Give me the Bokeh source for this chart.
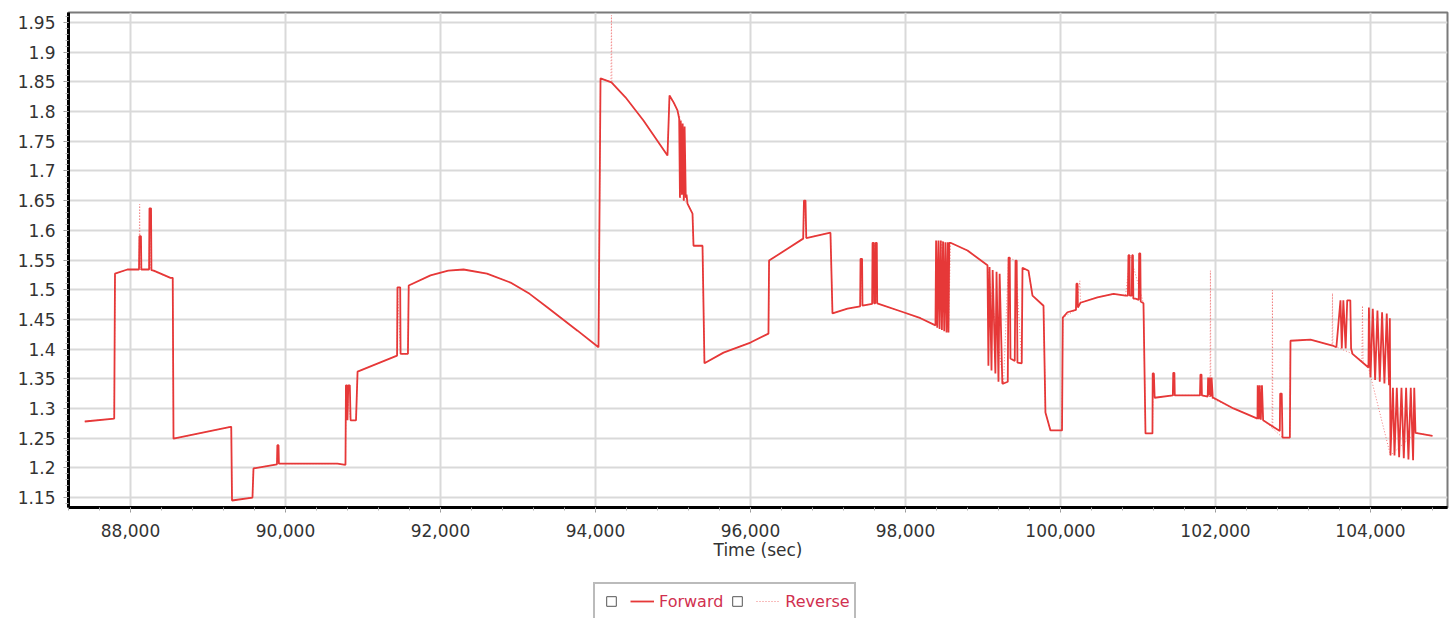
from bokeh.plotting import figure
from bokeh.layouts import column
from bokeh.models import (FixedTicker, NumeralTickFormatter, Legend, LegendItem,
                          ColumnDataSource, Range1d)
from bokeh.embed import file_html
from bokeh.resources import INLINE

# ---------------- data ----------------
forward_time = [
    87410, 87790, 87800, 87960, 88110, 88115, 88135, 88140, 88240, 88245, 88265, 88270, 88300, 88516, 88545,
    88555, 89290, 89300, 89310, 89574, 89587, 89890, 89895, 89910, 89915, 90670, 90774, 90780, 90795, 90800,
    90810, 90830, 90840, 90910, 90930, 91440, 91445, 91480, 91485, 91580, 91590, 91871, 92100, 92297, 92600,
    92903, 93150, 93381, 93768, 94039, 94065, 94206, 94387, 94619, 94929, 94955, 95010, 95058,
    95080, 95090, 95100, 95115, 95125, 95140, 95150, 95165, 95175, 95187, 95252, 95265, 95381, 95406,
    95652, 96000, 96232, 96240, 96477, 96680, 96690, 96710, 96720, 97032, 97058, 97252, 97415, 97420,
    97440, 97445, 97570, 97575, 97590, 97595, 97610, 97615, 97630, 97635, 97974, 98194, 98387,
    98395, 98410, 98425, 98440, 98455, 98470, 98485, 98500, 98515, 98530, 98545, 98555, 98565, 98581,
    98800, 99058, 99070, 99085, 99110, 99125, 99160, 99175, 99200, 99215, 99250, 99265, 99320, 99330,
    99345, 99355, 99410, 99420, 99435, 99445, 99500, 99510, 99587, 99639, 99781, 99806, 99871, 100020,
    100030, 100090, 100200, 100206, 100220, 100225, 100258, 100477, 100684, 100839, 100870, 100877,
    100890, 100895, 100920, 100925, 100935, 100940, 100968, 101010, 101015, 101030, 101035, 101071,
    101097, 101187, 101190, 101205, 101215, 101450, 101455, 101470, 101475, 101800, 101806, 101820,
    101825, 101900, 101905, 101915, 101925, 101940, 101950, 101965, 101974, 102232, 102542, 102545,
    102560, 102570, 102585, 102600, 102615, 102830, 102835, 102855, 102865, 102960, 102968, 103226,
    103510, 103560, 103613, 103630, 103650, 103680, 103700, 103740, 103750, 103768, 103974, 103980,
    104000, 104030, 104060, 104090, 104120, 104150, 104180, 104210, 104240, 104250, 104258, 104290,
    104310, 104340, 104370, 104400, 104430, 104460, 104490, 104520, 104550, 104565, 104581, 104800,
]
forward_value = [
    1.278, 1.283, 1.527, 1.534, 1.534, 1.590, 1.590, 1.534, 1.534, 1.637, 1.637, 1.533, 1.532, 1.520, 1.520,
    1.249, 1.269, 1.269, 1.145, 1.150, 1.199, 1.206, 1.238, 1.238, 1.207, 1.207, 1.205, 1.339, 1.339, 1.280,
    1.339, 1.339, 1.280, 1.280, 1.362, 1.389, 1.504, 1.504, 1.392, 1.392, 1.507, 1.524, 1.532, 1.534, 1.527,
    1.512, 1.493, 1.470, 1.431, 1.403, 1.856, 1.849, 1.824, 1.785, 1.726, 1.827, 1.815, 1.802,
    1.788, 1.655, 1.785, 1.660, 1.780, 1.650, 1.775, 1.655, 1.660, 1.645, 1.628, 1.574, 1.574, 1.376,
    1.394, 1.411, 1.426, 1.549, 1.569, 1.586, 1.650, 1.650, 1.587, 1.596, 1.460, 1.468, 1.472, 1.552,
    1.552, 1.473, 1.476, 1.579, 1.579, 1.477, 1.477, 1.579, 1.579, 1.477, 1.462, 1.452, 1.440,
    1.583, 1.436, 1.583, 1.434, 1.583, 1.432, 1.581, 1.430, 1.580, 1.428, 1.580, 1.428, 1.579, 1.579,
    1.566, 1.541, 1.372, 1.538, 1.364, 1.533, 1.359, 1.530, 1.345, 1.527, 1.342, 1.342, 1.345, 1.554,
    1.554, 1.384, 1.380, 1.549, 1.549, 1.377, 1.376, 1.537, 1.532, 1.490, 1.473, 1.293, 1.263, 1.263,
    1.453, 1.462, 1.466, 1.510, 1.510, 1.470, 1.478, 1.487, 1.493, 1.490, 1.490, 1.558,
    1.558, 1.490, 1.490, 1.558, 1.558, 1.485, 1.485, 1.483, 1.561, 1.561, 1.480, 1.477,
    1.258, 1.258, 1.359, 1.359, 1.318, 1.322, 1.360, 1.360, 1.322, 1.322, 1.357, 1.357,
    1.322, 1.320, 1.352, 1.322, 1.352, 1.320, 1.352, 1.318, 1.318, 1.300, 1.283, 1.339,
    1.282, 1.339, 1.281, 1.339, 1.280, 1.262, 1.325, 1.325, 1.251, 1.251, 1.414, 1.416,
    1.406, 1.403, 1.482, 1.401, 1.482, 1.401, 1.482, 1.482, 1.401, 1.392, 1.369, 1.470,
    1.352, 1.468, 1.348, 1.465, 1.345, 1.462, 1.342, 1.460, 1.339, 1.452, 1.221, 1.335,
    1.221, 1.335, 1.218, 1.335, 1.216, 1.335, 1.214, 1.335, 1.213, 1.335, 1.259, 1.254,
]

reverse_time = [
    87410, 87790, 87800, 87960, 88110, 88118, 88125, 88240, 88250, 88258, 88516, 88545, 88555, 89290,
    89300, 89310, 89574, 89587, 89890, 89900, 89910, 90670, 90774, 90780, 90840, 90910, 90930, 91440,
    91445, 91485, 91580, 91590, 91871, 92100, 92297, 92600, 92903, 93150, 93381, 93768, 94039, 94065,
    94200, 94206, 94212, 94387, 94619, 94929, 94955, 95058, 95090, 95100, 95187, 95252, 95265, 95381,
    95406, 95652, 96000, 96232, 96240, 96477, 96680, 96700, 96720, 97032, 97058, 97252, 97415, 97430,
    97445, 97570, 97600, 97635, 97974, 98194, 98387, 98470, 98555, 98581, 98800, 99058, 99265, 99330,
    99420, 99500, 99510, 99587, 99639, 99781, 99806, 99871, 100020, 100030, 100200, 100250, 100258,
    100477, 100684, 100839, 100900, 101071, 101097, 101187, 101200, 101215, 101458, 101806, 101930,
    101935, 101940, 102232, 102542, 102580, 102615, 102730, 102735, 102740, 102865, 102960, 102968,
    103226, 103505, 103510, 103515, 103768, 103890, 103897, 103905, 103974, 104258, 104581, 104800,
]
reverse_value = [
    1.278, 1.283, 1.527, 1.534, 1.534, 1.644, 1.534, 1.534, 1.637, 1.533, 1.520, 1.520, 1.249, 1.269,
    1.269, 1.145, 1.150, 1.199, 1.206, 1.238, 1.207, 1.207, 1.205, 1.339, 1.280, 1.280, 1.362, 1.389,
    1.504, 1.392, 1.392, 1.507, 1.524, 1.532, 1.534, 1.527, 1.512, 1.493, 1.470, 1.431, 1.403, 1.856,
    1.850, 1.962, 1.849, 1.824, 1.785, 1.726, 1.827, 1.802, 1.790, 1.655, 1.645, 1.628, 1.574, 1.574,
    1.376, 1.394, 1.411, 1.426, 1.549, 1.569, 1.586, 1.650, 1.587, 1.596, 1.460, 1.468, 1.472, 1.552,
    1.473, 1.476, 1.579, 1.477, 1.462, 1.452, 1.440, 1.583, 1.428, 1.579, 1.566, 1.541, 1.342, 1.554,
    1.549, 1.376, 1.537, 1.532, 1.490, 1.473, 1.293, 1.263, 1.263, 1.453, 1.466, 1.515, 1.478,
    1.487, 1.493, 1.490, 1.558, 1.477, 1.258, 1.258, 1.359, 1.318, 1.322, 1.322, 1.320,
    1.532, 1.318, 1.300, 1.283, 1.339, 1.280, 1.268, 1.499, 1.266, 1.251, 1.251, 1.414,
    1.416, 1.406, 1.494, 1.406, 1.392, 1.380, 1.473, 1.378, 1.369, 1.221, 1.259, 1.254,
]

x_ticks = [88000, 90000, 92000, 94000, 96000, 98000, 100000, 102000, 104000]
x_minor_ticks = list(range(87200, 105000, 400))
y_ticks = [1.15, 1.2, 1.25, 1.3, 1.35, 1.4, 1.45, 1.5, 1.55, 1.6, 1.65, 1.7, 1.75, 1.8, 1.85, 1.9, 1.95]
y_minor_ticks = [round(1.14 + 0.01 * i, 2) for i in range(83)]

series_labels = ["Forward", "Reverse"]
x_title = "Time (sec)"

FWD_COLOR = "#e63838"
REV_COLOR = "#f07a7a"
FONT = "DejaVu Sans"

# ---------------- main chart ----------------
p = figure(width=1450, height=580,
           x_range=Range1d(87200, 104994), y_range=Range1d(1.1332, 1.9668),
           output_backend="svg", toolbar_location=None,
           min_border_left=68, min_border_right=3, min_border_top=12, min_border_bottom=73)

p.background_fill_color = "white"
p.border_fill_color = "white"
p.outline_line_color = "#7a7a7a"
p.outline_line_width = 2

p.xgrid.ticker = FixedTicker(ticks=x_ticks)
p.ygrid.ticker = FixedTicker(ticks=y_ticks)
for g in (p.xgrid, p.ygrid):
    g.grid_line_color = "#d9d9d9"
    g.grid_line_width = 2

xa = p.xaxis[0]
xa.ticker = FixedTicker(ticks=x_ticks, minor_ticks=x_minor_ticks)
xa.formatter = NumeralTickFormatter(format="0,0")
xa.axis_label = x_title
xa.axis_label_text_font = FONT
xa.axis_label_text_font_size = "17px"
xa.axis_label_text_font_style = "normal"
xa.axis_label_text_color = "#333333"
xa.axis_label_standoff = 0
ya = p.yaxis[0]
ya.ticker = FixedTicker(ticks=y_ticks, minor_ticks=y_minor_ticks)
ya.formatter = NumeralTickFormatter(format="0.0[0]")
for a in (xa, ya):
    a.axis_line_color = "black"
    a.axis_line_width = 3
    a.major_tick_line_color = "#999999"
    a.major_tick_in = 0
    a.major_tick_out = 5
    a.minor_tick_line_color = "#b0b0b0"
    a.minor_tick_in = 0
    a.minor_tick_out = 3
    a.major_label_text_font = FONT
    a.major_label_text_font_size = "17px"
    a.major_label_text_color = "#333333"
xa.major_label_standoff = 11
ya.major_label_standoff = 8

rev_src = ColumnDataSource(dict(t=reverse_time, v=reverse_value))
fwd_src = ColumnDataSource(dict(t=forward_time, v=forward_value))
p.line("t", "v", source=rev_src, line_color=REV_COLOR, line_width=1, line_dash="1 2")
p.line("t", "v", source=fwd_src, line_color=FWD_COLOR, line_width=1.8)

# ---------------- legend strip (separate small figure below) ----------------
lg = figure(width=1450, height=60, x_range=p.x_range, y_range=Range1d(0, 1),
            output_backend="svg", toolbar_location=None, min_border=0)
lg.axis.visible = False
lg.grid.visible = False
lg.outline_line_color = None
lg.background_fill_color = "white"
lg.border_fill_color = "white"

# same series (they lie above this strip's 0..1 range, so only the legend shows them)
l_fwd = lg.line("t", "v", source=fwd_src, line_color=FWD_COLOR, line_width=1.8)
l_rev = lg.line("t", "v", source=rev_src, line_color=REV_COLOR, line_width=1, line_dash="1 2")
# checkbox look-alikes: zero-size markers that only the legend draws
box_src = ColumnDataSource(dict(t=forward_time[:1], v=forward_value[:1]))
b1 = lg.scatter("t", "v", source=box_src, marker="square", size=0,
                fill_color="white", line_color="#555555", line_width=1)
b2 = lg.scatter("t", "v", source=box_src, marker="square", size=0,
                fill_color="white", line_color="#555555", line_width=1)

legend = Legend(items=[
    LegendItem(label="", renderers=[b1]),
    LegendItem(label=series_labels[0], renderers=[l_fwd]),
    LegendItem(label="", renderers=[b2]),
    LegendItem(label=series_labels[1], renderers=[l_rev]),
], orientation="horizontal", location=(525, 20))
legend.glyph_width = 24
legend.glyph_height = 26
legend.label_width = 0
legend.label_standoff = 5
legend.spacing = 2
legend.padding = 4
legend.margin = 0
legend.border_line_color = "#777777"
legend.border_line_width = 2
legend.label_text_font = FONT
legend.label_text_font_size = "16px"
legend.label_text_color = "#d1304f"
legend.background_fill_color = "white"
lg.add_layout(legend, "center")

open("out.html", "w").write(file_html(column(p, lg, spacing=0), INLINE))
